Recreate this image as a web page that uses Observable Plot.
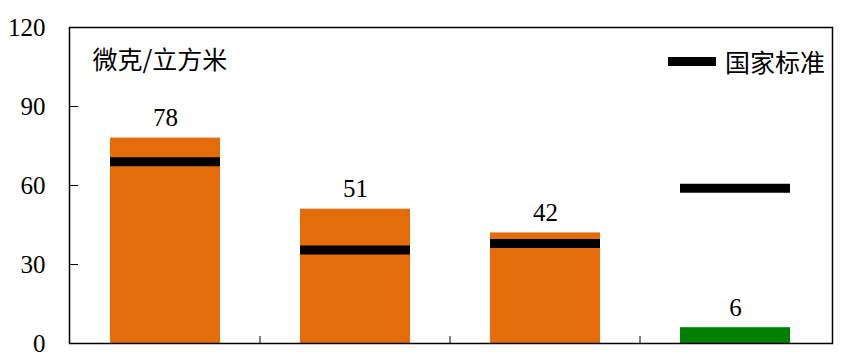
<!DOCTYPE html>
<html><head><meta charset="utf-8">
<script src="https://cdn.jsdelivr.net/npm/d3@7"></script>
<script src="https://cdn.jsdelivr.net/npm/@observablehq/plot@0.6"></script>
<style>
body{margin:0;background:#fff;}
#wrap{position:relative;width:865px;height:352px;}
#legend{position:absolute;left:668px;top:46px;height:30px;display:flex;align-items:center;font-family:"Noto Sans CJK SC",sans-serif;font-size:25px;line-height:30px;color:#000;}
#legend .sw{width:48px;height:9px;background:#000;margin-right:9px;}
</style></head><body><div id="wrap"></div>
<script>
const categories = ["一", "二", "三", "四"];
const values = [78, 51, 42, 6];
const standards = [69, 35.5, 38, 59];
const yTicks = [0, 30, 60, 90, 120];
const unitLabel = "微克/立方米";
const legendLabel = "国家标准";

const data = categories.map((c, i) => ({category: c, value: values[i], standard: standards[i]}));
const orange = "#E46C0A", green = "#008000";
const serif = "Liberation Serif";
const cjk = "Noto Sans CJK SC";

const boundaryTicks = (index, scales) => {
  const x = scales.x, y = scales.y;
  const bw = typeof x.bandwidth === "function" ? x.bandwidth() : x.bandwidth;
  const g = d3.create("svg:g").attr("stroke", "#000").attr("stroke-width", 1);
  for (let i = 0; i < categories.length - 1; i++) {
    const px = (x(categories[i]) + bw + x(categories[i + 1])) / 2;
    g.append("line").attr("x1", px).attr("x2", px).attr("y1", y(0)).attr("y2", y(0) - 7);
  }
  return g.node();
};

const chart = Plot.plot({
  width: 865, height: 352,
  marginLeft: 69, marginRight: 33, marginTop: 27, marginBottom: 9,
  style: {background: "#fff", color: "#000"},
  x: {domain: categories, paddingInner: 0.42, paddingOuter: 0.21, axis: null},
  y: {domain: [0, 120], axis: null},
  color: {type: "identity"},
  marks: [
    Plot.barY(data, {x: "category", y: "value", fill: d => d.value <= d.standard ? green : orange}),
    Plot.tickY(data, {x: "category", y: "standard", stroke: "#000", strokeWidth: 9}),
    Plot.text(data, {x: "category", y: "value", text: d => String(d.value), lineAnchor: "bottom", dy: -12, fontSize: 25, fontFamily: serif, fill: "#000"}),
    Plot.axisY(yTicks, {tickSize: -9, tickPadding: 33, fontSize: 25, fontFamily: serif, stroke: "#000", fill: "#000"}),
    boundaryTicks,
    Plot.frame({stroke: "#000", strokeWidth: 1.5}),
    Plot.text([unitLabel], {frameAnchor: "top-left", dx: 23, dy: 33, lineAnchor: "middle", textAnchor: "start", fontFamily: cjk, fontSize: 25, fill: "#000"})
  ]
});
const wrap = document.getElementById("wrap");
wrap.appendChild(chart);
const lg = document.createElement("div");
lg.id = "legend";
lg.innerHTML = '<span class="sw"></span><span></span>';
lg.lastChild.textContent = legendLabel;
wrap.appendChild(lg);
</script>
</body></html>
